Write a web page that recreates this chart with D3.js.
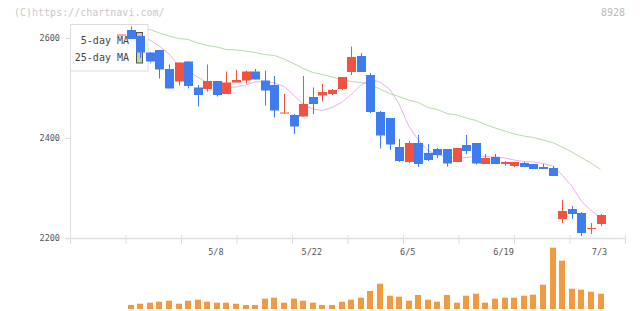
<!DOCTYPE html>
<html>
<head>
<meta charset="utf-8">
<script src="https://d3js.org/d3.v7.min.js"></script>
<style type="text/css">
  body { margin: 0; background: #fff; }
  text { font-family: "DejaVu Sans Mono", monospace; }
</style>
</head>
<body>
<div id="chart"></div>
<script>

// trading days
var dates = ["4/19","4/22","4/23","4/24","4/25","4/26","4/30","5/1","5/2","5/7",
  "5/8","5/9","5/10","5/13","5/14","5/15","5/16","5/17","5/20","5/21",
  "5/22","5/23","5/24","5/27","5/28","5/29","5/30","5/31","6/3","6/4",
  "6/5","6/6","6/7","6/10","6/11","6/12","6/13","6/14","6/17","6/18",
  "6/19","6/20","6/21","6/24","6/25","6/26","6/27","6/28","7/1","7/2","7/3"];

var open  = [2607,2616,2604,2571,2576,2538,2513,2553,2501,2498,
  2514,2488,2511,2515,2533,2515,2506,2449,2446,2443,
  2482,2485,2488,2498,2532,2564,2526,2452,2440,2382,
  2352,2390,2370,2378,2378,2352,2386,2390,2348,2362,
  2348,2344,2350,2348,2342,2340,2238,2258,2250,2220,2228];
var high  = [2607,2623,2604,2572,2576,2547,2551,2553,2506,2547,
  2514,2533,2536,2535,2538,2535,2524,2488,2448,2524,
  2501,2508,2498,2522,2583,2570,2530,2454,2440,2398,
  2394,2406,2388,2380,2378,2380,2406,2390,2368,2368,
  2354,2352,2352,2348,2348,2344,2276,2264,2252,2230,2248];
var low   = [2607,2598,2560,2551,2519,2499,2505,2499,2463,2493,
  2483,2488,2511,2509,2517,2465,2441,2449,2408,2443,
  2448,2473,2486,2496,2526,2532,2450,2379,2376,2352,
  2350,2342,2354,2360,2343,2352,2368,2347,2348,2348,
  2344,2342,2342,2338,2338,2324,2230,2238,2204,2208,2224];
var close = [2607,2598,2571,2553,2537,2499,2551,2504,2486,2514,
  2486,2511,2516,2533,2517,2495,2455,2451,2423,2468,
  2468,2492,2496,2522,2562,2532,2452,2405,2387,2354,
  2390,2348,2356,2366,2349,2380,2374,2349,2360,2348,
  2352,2352,2342,2338,2338,2324,2254,2248,2210,2220,2246];

// moving averages
var ma5  = [2616,2612,2606,2596,2584,2568,2546,2533,2522,2510,
  2503,2501,2502,2506,2512,2513,2510,2503,2486,2467,
  2458,2455,2461,2471,2487,2506,2517,2512,2498,2468,
  2424,2396,2375,2366,2362,2360,2361,2364,2363,2362,
  2360,2356,2353,2352,2349,2344,2326,2304,2274,2255,2241];
var ma25 = [2622,2621,2619,2617,2610,2604,2599,2597,2590,2585,
  2582,2577,2576,2574,2571,2567,2565,2558,2549,2539,
  2531,2527,2522,2517,2513,2511,2507,2498,2489,2483,
  2476,2471,2461,2457,2449,2446,2440,2435,2427,2420,
  2414,2408,2404,2401,2396,2391,2382,2372,2361,2350,2337];

// volume (relative units)
var volume = [0,40,53,63,73,83,53,83,93,73,
  63,63,53,40,40,103,113,63,103,83,
  63,40,40,73,93,113,180,253,133,123,
  83,140,93,73,140,63,133,153,63,103,
  113,113,133,143,243,613,483,203,193,173,153];

var priceTicks = [2200, 2400, 2600];
var dateLabels = ["5/8", "5/22", "6/5", "6/19", "7/3"];

var width = 640, height = 311;
var upColor = "#f25240", downColor = "#3f7cf0";

var svg = d3.select("#chart").append("svg")
  .attr("width", width)
  .attr("height", height);

// scales
var x = d3.scalePoint().domain(dates).range([121, 600.5]);
var y = d3.scaleLinear().domain([2200, 2600]).range([238, 38]);
var yv = d3.scaleLinear().domain([0, 1000]).range([309, 209]);
var xt = d3.scaleLinear().domain([0, 10]).range([70.5, 625.5]);

// header texts
svg.append("text")
  .attr("x", 14).attr("y", 16)
  .style("font-size", "10px")
  .attr("fill", "#c8c8c8")
  .text("(C)https://chartnavi.com/");
svg.append("text")
  .attr("x", 625).attr("y", 16)
  .attr("text-anchor", "end")
  .style("font-size", "10px")
  .attr("fill", "#bbbbbb")
  .text("8928");

// axis lines
svg.append("line")
  .attr("x1", 65).attr("x2", 625.5)
  .attr("y1", 238.5).attr("y2", 238.5)
  .attr("stroke", "#dddddd").attr("stroke-width", 1.5);
svg.append("line")
  .attr("x1", 70.5).attr("x2", 70.5)
  .attr("y1", 24).attr("y2", 238.5)
  .attr("stroke", "#dddddd");

svg.append("g").selectAll("line")
  .data(d3.range(0, 11))
  .enter().append("line")
  .attr("x1", function(d) { return xt(d); })
  .attr("x2", function(d) { return xt(d); })
  .attr("y1", 235).attr("y2", 244)
  .attr("stroke", "#dddddd");

// y ticks and labels
var yaxis = svg.append("g");
yaxis.selectAll("line")
  .data(priceTicks)
  .enter().append("line")
  .attr("x1", 65).attr("x2", 70.5)
  .attr("y1", function(d) { return Math.round(y(d)) + 0.5; })
  .attr("y2", function(d) { return Math.round(y(d)) + 0.5; })
  .attr("stroke", "#dddddd");
yaxis.selectAll("text")
  .data(priceTicks)
  .enter().append("text")
  .attr("x", 60)
  .attr("y", function(d) { return y(d) + 3; })
  .attr("text-anchor", "end")
  .style("font-size", "8.5px")
  .attr("fill", "#555")
  .text(function(d) { return d; });

// x labels
svg.append("g").selectAll("text")
  .data(dateLabels)
  .enter().append("text")
  .attr("x", function(d) { return x(d) - 1; })
  .attr("y", 255)
  .attr("text-anchor", "middle")
  .style("font-size", "8.5px")
  .attr("fill", "#555")
  .text(function(d) { return d; });

// moving average lines
var idx = d3.range(dates.length);
function maLine(arr) {
  return d3.line()
    .x(function(i) { return x(dates[i]); })
    .y(function(i) { return y(arr[i]); })(idx);
}
svg.append("path")
  .attr("d", maLine(ma25))
  .attr("fill", "none")
  .attr("stroke", "#b5dca5");
svg.append("path")
  .attr("d", maLine(ma5))
  .attr("fill", "none")
  .attr("stroke", "#e8b2ea");

// legend box (under the candles)
var legend = svg.append("g");
legend.append("rect")
  .attr("x", 70.5).attr("y", 24.5)
  .attr("width", 77.5).attr("height", 46.5)
  .attr("fill", "#fff")
  .attr("stroke", "#dddddd");
legend.append("text")
  .attr("x", 129).attr("y", 43.5)
  .attr("text-anchor", "end")
  .style("font-size", "10px")
  .attr("fill", "#444")
  .text("5-day MA");
legend.append("text")
  .attr("x", 129).attr("y", 60.5)
  .attr("text-anchor", "end")
  .style("font-size", "10px")
  .attr("fill", "#444")
  .text("25-day MA");
legend.append("rect")
  .attr("x", 136.5).attr("y", 32.5)
  .attr("width", 6).attr("height", 12)
  .attr("fill", "#e8b2ea")
  .attr("stroke", "#555");
legend.append("rect")
  .attr("x", 136.5).attr("y", 51.5)
  .attr("width", 6).attr("height", 11.5)
  .attr("fill", "#b5dca5")
  .attr("stroke", "#555");

// candles
var candles = svg.append("g").selectAll("g")
  .data(idx)
  .enter().append("g");

function col(i) { return close[i] >= open[i] ? upColor : downColor; }

candles.append("rect")
  .attr("x", function(i) { return Math.round(x(dates[i])); })
  .attr("y", function(i) { return y(high[i]); })
  .attr("width", 1)
  .attr("height", function(i) { return Math.max(0, y(low[i]) - y(high[i])); })
  .attr("fill", col);

candles.append("rect")
  .attr("x", function(i) { return Math.round(x(dates[i])) - 4; })
  .attr("y", function(i) { return y(Math.max(open[i], close[i])); })
  .attr("width", 9)
  .attr("height", function(i) { return Math.max(1, Math.abs(y(open[i]) - y(close[i]))); })
  .attr("fill", col);

// volume bars
svg.append("g").selectAll("rect")
  .data(idx.filter(function(i) { return volume[i] > 0; }))
  .enter().append("rect")
  .attr("x", function(i) { return Math.round(x(dates[i])) - 3; })
  .attr("y", function(i) { return yv(volume[i]); })
  .attr("width", 6)
  .attr("height", function(i) { return yv(0) - yv(volume[i]); })
  .attr("fill", "#f29a40");

</script>
</body>
</html>
